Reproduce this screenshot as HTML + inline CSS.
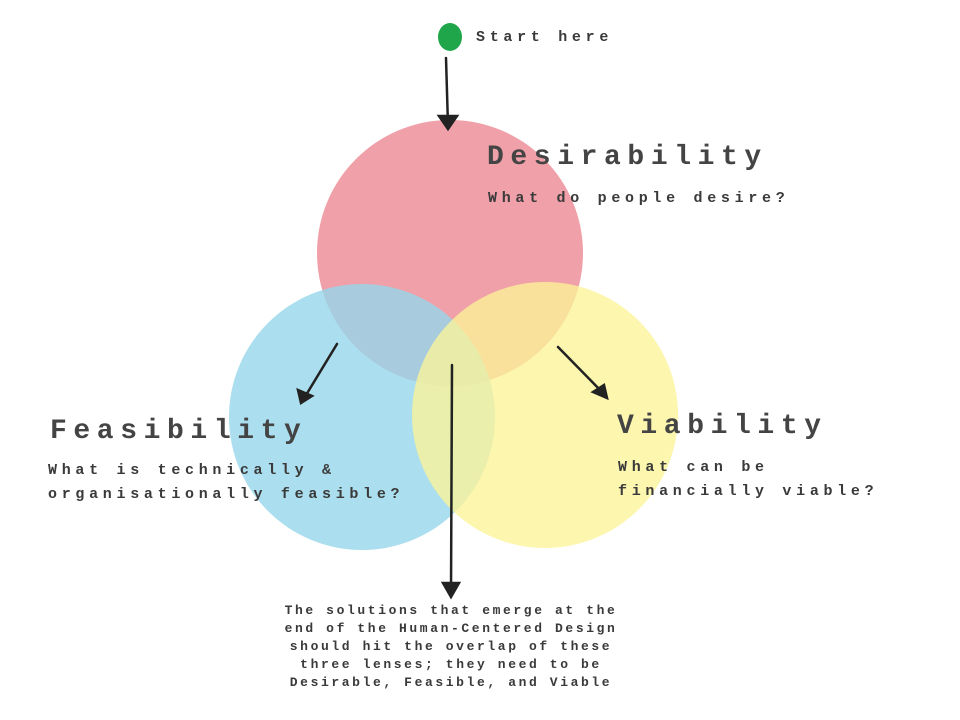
<!DOCTYPE html>
<html><head><meta charset="utf-8"><style>
html,body{margin:0;padding:0;background:#fff;}
body{width:960px;height:720px;position:relative;overflow:hidden;font-family:"Liberation Mono","DejaVu Sans Mono",monospace;color:#3a3a3a;font-weight:bold;}
.t{position:absolute;white-space:pre;}
.h{font-size:28px;letter-spacing:6.6px;color:#444;}
.s{font-size:15px;letter-spacing:4.7px;line-height:24px;}
.b{position:absolute;left:270px;top:602px;width:362px;text-align:center;font-size:13px;letter-spacing:2.6px;line-height:18px;white-space:pre;}
</style></head><body>
<svg width="960" height="720" style="position:absolute;left:0;top:0">
<circle cx="450" cy="253" r="133" fill="#f0a0a8"/>
<circle cx="362" cy="417" r="133" fill="#96d6ea" opacity="0.8"/>
<circle cx="545" cy="415" r="133" fill="#fbf398" opacity="0.78"/>
<ellipse cx="450" cy="37" rx="12" ry="14" fill="#1fa64a"/>
<g stroke="#222" stroke-width="2.5" fill="none" stroke-linecap="round">
<line x1="446" y1="58" x2="448" y2="126"/>
<path d="M439 116 L448 129 L457 116 Z" fill="#222"/>
<line x1="337" y1="344" x2="303" y2="400"/>
<path d="M298 390 L301 403 L312 396 Z" fill="#222"/>
<line x1="558" y1="347" x2="605" y2="395"/>
<path d="M593 392 L607 398 L604 385 Z" fill="#222"/>
<line x1="452" y1="365" x2="451" y2="593"/>
<path d="M443 583 L451 597 L459 583 Z" fill="#222"/>
</g>
</svg>
<div class="t s" style="left:476px;top:26px;">Start here</div>
<div class="t h" style="left:487px;top:142px;">Desirability</div>
<div class="t s" style="left:488px;top:187px;">What do people desire?</div>
<div class="t h" style="left:50px;top:416px;">Feasibility</div>
<div class="t s" style="left:48px;top:459px;">What is technically &amp;
organisationally feasible?</div>
<div class="t h" style="left:617px;top:411px;">Viability</div>
<div class="t s" style="left:618px;top:456px;">What can be
financially viable?</div>
<div class="b">The solutions that emerge at the
end of the Human-Centered Design
should hit the overlap of these
three lenses; they need to be
Desirable, Feasible, and Viable</div>
</body></html>
